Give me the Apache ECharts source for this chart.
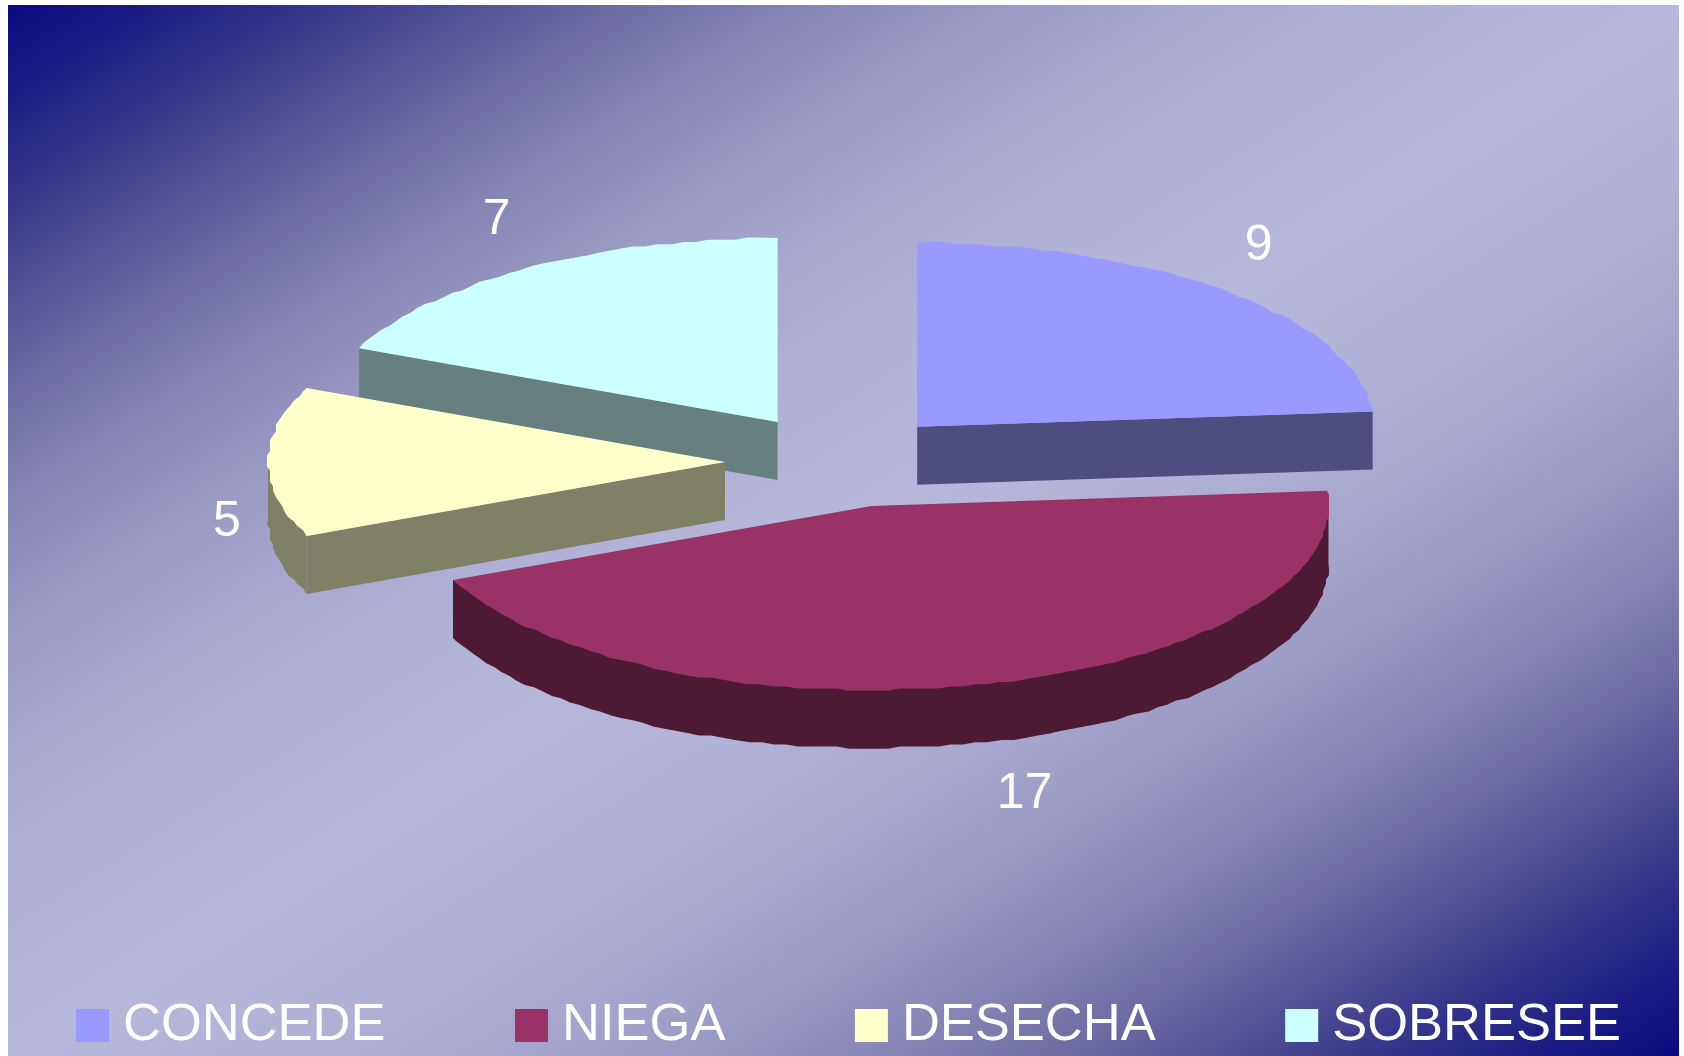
<!DOCTYPE html>
<html>
<head>
<meta charset="utf-8">
<style>html,body{margin:0;padding:0;background:#fff}#c{width:1684px;height:1056px}</style>
<script src="https://cdn.jsdelivr.net/npm/echarts@6/dist/echarts.min.js"></script>
</head>
<body>
<div id="c"></div>
<script>
const categories = ['CONCEDE', 'NIEGA', 'DESECHA', 'SOBRESEE'];
const values = [9, 17, 5, 7];
const topColors = ['#9999FF', '#993366', '#FFFFCC', '#CCFFFF'];
const wallColors = ['#4D4D80', '#4D1A33', '#808066', '#668080'];
const drawOrder = [3, 0, 2, 1];
const labelOffsets = [[32, -45], [41, 110], [-41, 60], [-31, -48]];
const sliceNudges = [[0, 0], [3.5, 1], [-1, 1.5], [0, 0]];

const CX = 840, CY = 460.5, RX = 457, RY = 184, EXPLODE = 114, DEPTH = 58;
const BG = {x: 8, y: 5, w: 1671, h: 1051};

const total = values.reduce((a, b) => a + b, 0);
const slices = [];
let acc = 0;
values.forEach((v, i) => {
  const a0 = acc / total * 2 * Math.PI;
  acc += v;
  const a1 = acc / total * 2 * Math.PI;
  const mid = (a0 + a1) / 2;
  slices.push({a0, a1, mid,
    ax: CX + EXPLODE * Math.sin(mid) + sliceNudges[i][0],
    ay: CY - EXPLODE * Math.cos(mid) * RY / RX + sliceNudges[i][1]});
});
function pt(s, a) { return [s.ax + RX * Math.sin(a), s.ay - RY * Math.cos(a)]; }
function arc(s, a0, a1) {
  const step = 1.6 * Math.PI / 180, out = [pt(s, a0)];
  for (let a = a0 + step; a < a1 - step / 2; a += step) {
    const p = pt(s, a);
    out.push([Math.round(p[0] / 3) * 3, Math.round(p[1] / 2.2) * 2.2]);
  }
  out.push(pt(s, a1));
  return out;
}
function down(points) { return points.map(p => [p[0], p[1] + DEPTH]); }
function poly(points, color) {
  return {type: 'polygon', shape: {points}, style: {fill: color}};
}
function makeRender(i) {
  return function () {
    const s = slices[i], children = [];
    const apex = [s.ax, s.ay], wall = wallColors[i];
    // outer rim, only the part facing the viewer (clock angle 90..270 degrees)
    const lo = Math.max(s.a0, Math.PI / 2), hi = Math.min(s.a1, 3 * Math.PI / 2);
    if (lo < hi) {
      const rim = arc(s, lo, hi);
      const upper = rim.map((p, k) => (k === 0 || k === rim.length - 1) ? p : [p[0], p[1] - 2]);
      children.push(poly(upper.concat(down(rim).reverse()), wall));
    }
    // radial walls facing the viewer
    if (s.a1 < Math.PI) {
      const e = pt(s, s.a1);
      children.push(poly([apex, e, [e[0], e[1] + DEPTH], [apex[0], apex[1] + DEPTH]], wall));
    }
    if (s.a0 > Math.PI) {
      const e = pt(s, s.a0);
      children.push(poly([apex, e, [e[0], e[1] + DEPTH], [apex[0], apex[1] + DEPTH]], wall));
    }
    // top face
    children.push(poly([apex].concat(arc(s, s.a0, s.a1)), topColors[i]));
    // value label
    const lp = pt(s, s.mid);
    children.push({type: 'text', style: {
      x: lp[0] + labelOffsets[i][0], y: lp[1] + labelOffsets[i][1],
      text: String(values[i]), fill: '#fff',
      font: '50px "Liberation Sans", Arial, sans-serif',
      textAlign: 'center', textVerticalAlign: 'middle'
    }});
    return {type: 'group', children};
  };
}

// background: corner-to-corner gradient whose mid line joins the two other corners
const L = Math.hypot(BG.w, BG.h), half = BG.w * BG.h / L;
const nx = BG.h / L, ny = BG.w / L, mx = BG.x + BG.w / 2, my = BG.y + BG.h / 2;
const sideStops = [[0, '#0A0A80'], [0.1, '#1F1F84'], [0.2, '#3A3A8C'], [0.3, '#5A5898'], [0.4, '#7574A8'],
  [0.5, '#8B8AB8'], [0.6, '#9A9AC4'], [0.7, '#A6A6CE'], [0.8, '#AEAED4'], [0.9, '#B4B4D9'], [1, '#B7B7DC']];
const stops = sideStops.map(s => ({offset: s[0] / 2, color: s[1]}))
  .concat(sideStops.slice(0, -1).reverse().map(s => ({offset: 1 - s[0] / 2, color: s[1]})));

const chart = echarts.init(document.getElementById('c'), null, {renderer: 'canvas'});
chart.setOption({
  animation: false,
  backgroundColor: '#fff',
  graphic: [{
    type: 'rect', z: -10, silent: true,
    shape: {x: BG.x, y: BG.y, width: BG.w, height: BG.h},
    style: {fill: {type: 'linear', global: true,
      x: mx - nx * half, y: my - ny * half, x2: mx + nx * half, y2: my + ny * half,
      colorStops: stops}}
  }],
  legend: {
    left: 76, top: 999, padding: 0, itemGap: 129.5, itemWidth: 33, itemHeight: 33,
    icon: 'rect', selectedMode: false, data: categories,
    textStyle: {color: '#fff', fontSize: 52.5, fontFamily: '"Liberation Sans", Arial, sans-serif', padding: [0, 0, 9, 9]}
  },
  series: drawOrder.map((i, z) => ({
    type: 'custom', name: categories[i], coordinateSystem: 'none', z: 2 + z,
    silent: true, itemStyle: {color: topColors[i]},
    data: [values[i]], renderItem: makeRender(i)
  }))
});
</script>
</body>
</html>
